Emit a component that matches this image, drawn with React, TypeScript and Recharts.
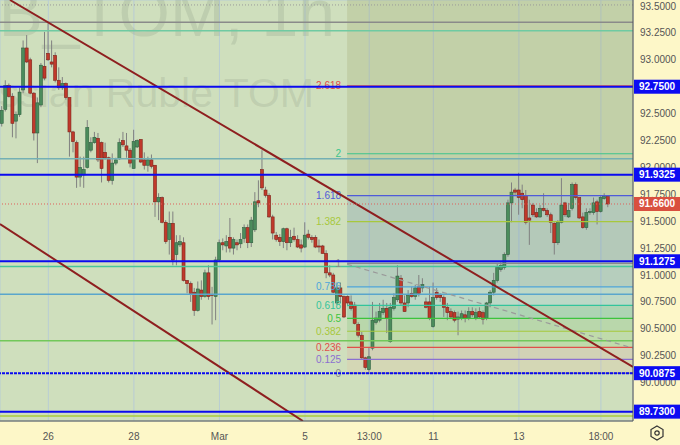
import { ComposedChart, Bar, XAxis, YAxis, CartesianGrid, ReferenceLine, ReferenceArea } from 'recharts'

// hourly candles: [open, high, low, close]
const ohlc: [number, number, number, number][] = [
  [92.41, 92.57, 92.38, 92.53], [92.54, 92.81, 92.52, 92.76], [92.76, 92.78, 92.65, 92.66], [92.66, 92.69, 92.28, 92.41],
  [92.43, 92.52, 92.27, 92.49], [92.49, 92.74, 92.47, 92.70], [92.72, 93.18, 92.69, 93.11], [93.11, 93.23, 92.97, 92.98],
  [93.00, 93.02, 92.68, 92.69], [92.69, 92.70, 92.25, 92.32], [92.32, 92.65, 92.04, 92.60], [92.58, 92.97, 92.56, 92.95],
  [92.94, 93.26, 92.81, 92.83], [93.06, 93.34, 92.99, 93.00], [92.98, 93.18, 92.93, 92.96], [93.04, 93.07, 92.79, 92.81],
  [92.81, 92.93, 92.72, 92.74], [92.74, 92.84, 92.72, 92.78], [92.78, 92.79, 92.63, 92.65], [92.65, 92.65, 92.10, 92.33],
  [92.33, 92.34, 92.14, 92.24], [92.23, 92.25, 91.81, 91.91], [91.91, 92.10, 91.82, 92.00], [91.93, 92.10, 91.81, 91.98],
  [92.00, 92.44, 91.99, 92.37], [92.16, 92.28, 92.14, 92.23], [92.23, 92.33, 92.22, 92.28], [92.27, 92.32, 92.05, 92.07],
  [92.23, 92.24, 91.86, 91.99], [92.14, 92.23, 92.07, 92.09], [92.09, 92.10, 91.86, 91.88], [91.88, 92.13, 91.84, 92.04],
  [92.04, 92.09, 92.02, 92.07], [92.08, 92.27, 92.07, 92.23], [92.25, 92.33, 92.19, 92.21], [92.20, 92.32, 92.09, 92.16],
  [92.16, 92.18, 92.00, 92.04], [91.99, 92.35, 91.99, 92.24], [92.19, 92.26, 92.18, 92.25], [92.26, 92.26, 92.04, 92.05],
  [92.07, 92.14, 91.98, 92.02], [92.02, 92.10, 91.96, 92.07], [92.07, 92.12, 91.99, 92.01], [92.02, 92.02, 91.54, 91.68],
  [91.68, 91.76, 91.51, 91.72], [91.72, 91.73, 91.48, 91.49], [91.49, 91.51, 91.29, 91.31], [91.33, 91.59, 91.19, 91.48],
  [91.48, 91.59, 91.09, 91.14], [91.19, 91.37, 91.09, 91.30], [91.28, 91.37, 91.26, 91.31], [91.30, 91.35, 90.94, 90.95],
  [90.95, 90.95, 90.83, 90.92], [90.92, 90.94, 90.75, 90.83], [90.84, 90.88, 90.62, 90.67], [90.67, 90.94, 90.66, 90.87],
  [90.86, 90.95, 90.77, 90.80], [90.80, 91.05, 90.79, 91.02], [91.02, 91.09, 90.77, 90.80], [90.82, 90.89, 90.54, 90.81],
  [90.80, 91.17, 90.58, 91.14], [91.14, 91.33, 91.12, 91.30], [91.30, 91.34, 91.23, 91.28], [91.27, 91.37, 91.21, 91.31],
  [91.35, 91.53, 91.21, 91.25], [91.25, 91.35, 91.19, 91.33], [91.30, 91.33, 91.23, 91.28], [91.29, 91.39, 91.25, 91.33],
  [91.34, 91.47, 91.30, 91.44], [91.44, 91.47, 91.25, 91.30], [91.30, 91.54, 91.26, 91.51], [91.42, 91.77, 91.40, 91.68],
  [91.69, 91.88, 91.63, 91.67], [91.98, 92.16, 91.79, 91.81], [91.79, 91.82, 91.72, 91.74], [91.74, 91.76, 91.53, 91.54],
  [91.54, 91.56, 91.33, 91.39], [91.37, 91.40, 91.31, 91.33], [91.35, 91.38, 91.27, 91.31], [91.31, 91.44, 91.25, 91.43],
  [91.43, 91.44, 91.23, 91.30], [91.30, 91.42, 91.26, 91.35], [91.36, 91.44, 91.31, 91.33], [91.33, 91.37, 91.25, 91.26],
  [91.28, 91.33, 91.21, 91.25], [91.26, 91.49, 91.25, 91.37], [91.38, 91.42, 91.33, 91.35], [91.35, 91.37, 91.30, 91.33],
  [91.35, 91.37, 91.25, 91.26], [91.27, 91.33, 91.21, 91.26], [91.27, 91.28, 91.20, 91.20], [91.20, 91.23, 90.97, 91.02],
  [91.02, 91.09, 90.98, 91.00], [91.00, 91.02, 90.83, 90.84], [90.74, 90.93, 90.72, 90.88], [90.88, 90.93, 90.74, 90.80],
  [90.80, 90.81, 90.60, 90.61], [90.80, 90.81, 90.71, 90.74], [90.75, 90.81, 90.67, 90.69], [90.72, 90.75, 90.54, 90.55],
  [90.54, 90.56, 90.42, 90.44], [90.44, 90.47, 90.21, 90.23], [90.23, 90.24, 90.12, 90.14], [90.12, 90.33, 90.10, 90.24],
  [90.32, 90.75, 90.30, 90.58], [90.56, 90.66, 90.54, 90.60], [90.58, 90.74, 90.56, 90.66], [90.65, 90.77, 90.63, 90.69],
  [90.69, 90.74, 90.46, 90.60], [90.38, 90.74, 90.37, 90.70], [90.69, 90.83, 90.67, 90.79], [90.77, 91.09, 90.75, 90.99],
  [90.97, 91.00, 90.72, 90.74], [90.74, 90.81, 90.66, 90.66], [90.74, 90.86, 90.70, 90.81], [90.83, 90.89, 90.79, 90.80],
  [90.80, 90.91, 90.77, 90.88], [90.89, 91.00, 90.80, 90.83], [90.88, 90.97, 90.84, 90.91], [90.75, 90.79, 90.69, 90.70],
  [90.75, 90.89, 90.58, 90.60], [90.52, 90.93, 90.51, 90.79], [90.84, 90.88, 90.77, 90.79], [90.81, 90.83, 90.75, 90.79],
  [90.79, 90.81, 90.61, 90.70], [90.70, 90.74, 90.58, 90.65], [90.66, 90.69, 90.60, 90.61], [90.65, 90.67, 90.56, 90.58],
  [90.59, 90.66, 90.44, 90.61], [90.60, 90.67, 90.58, 90.64], [90.63, 90.67, 90.56, 90.60], [90.60, 90.70, 90.58, 90.66],
  [90.66, 90.70, 90.61, 90.63], [90.60, 90.69, 90.58, 90.65], [90.66, 90.70, 90.60, 90.61], [90.65, 90.67, 90.54, 90.59],
  [90.60, 90.75, 90.58, 90.74], [90.74, 90.86, 90.70, 90.84], [90.84, 91.02, 90.81, 90.95], [90.95, 91.11, 90.93, 91.07],
  [91.05, 91.12, 91.03, 91.09], [91.07, 91.21, 91.05, 91.19], [91.19, 91.70, 91.17, 91.67], [91.67, 91.86, 91.49, 91.77],
  [91.79, 91.81, 91.74, 91.77], [91.79, 91.95, 91.56, 91.72], [91.76, 91.84, 91.62, 91.70], [91.74, 91.79, 91.47, 91.49],
  [91.53, 91.70, 91.28, 91.51], [91.65, 91.67, 91.54, 91.56], [91.58, 91.62, 91.53, 91.54], [91.54, 91.65, 91.53, 91.62],
  [91.62, 91.76, 91.59, 91.60], [91.60, 91.62, 91.54, 91.56], [91.56, 91.58, 91.39, 91.49], [91.48, 91.49, 91.19, 91.30],
  [91.30, 91.51, 91.28, 91.49], [91.49, 91.90, 91.48, 91.65], [91.67, 91.68, 91.54, 91.56], [91.54, 91.67, 91.53, 91.60],
  [91.62, 91.86, 91.60, 91.84], [91.84, 91.86, 91.70, 91.72], [91.72, 91.72, 91.52, 91.53], [91.54, 91.58, 91.43, 91.44],
  [91.44, 91.62, 91.42, 91.58], [91.58, 91.62, 91.56, 91.59], [91.58, 91.72, 91.56, 91.67], [91.68, 91.70, 91.47, 91.59],
  [91.59, 91.74, 91.58, 91.72], [91.71, 91.76, 91.70, 91.73], [91.73, 91.73, 91.63, 91.66],
]

const xTicks = [13, 37, 61, 85, 103, 121, 145, 168]
const xLabels = ['26', '28', 'Mar', '5', '13:00', '11', '13', '18:00']
const yTicks = [89.75, 90, 90.25, 90.5, 90.75, 91, 91.25, 91.5, 91.75, 92, 92.25, 92.5, 92.75, 93, 93.25, 93.5]

// levels with a price tag on the axis
const tagLevels = [92.75, 91.9325, 91.1275, 90.0875, 89.73]
const lastPrice = 91.66
// plain horizontal lines
const plainLevels = [93.51, 93.35, 93.27, 92.08, 91.08, 90.82, 90.39, 89.69]
const plainColors = ['#9a9a9a', '#8a8a8a', '#6fcaa2', '#74b0b4', '#48c79a', '#5aa6cc', '#72c85a', '#a9cc3e']

// fibonacci extension drawn from candle 96.8 to the right edge
const fibStart = 96.8
const fibBase = 90.0875
const fibRange = 1.0197
const fibRatios = [0, 0.125, 0.236, 0.382, 0.5, 0.618, 0.786, 1, 1.382, 1.618, 2, 2.618]
const fibColors = ['#8a8a8a', '#8b6fd0', '#e0504a', '#a7c83c', '#3cc43c', '#33c49c', '#4ea5da', '#8a8a8a', '#a7c83c', '#4f5bd8', '#3cc48c', '#e0504a']
const fibFills = ['#f0b090', '#e68c96', '#78c850', '#4caf50', '#089981', '#64b5f6', '#3a78c0', '#2a5aa8', '#2a5aa8', '#80803c', '#80803c', '#80803c']

// trend lines: [candle index, price]
const trendLines: [number, number][][] = [
  [[2.24, 93.556], [177, 90.145]],
  [[-0.56, 91.474], [84.4, 89.643]],
]
const dashedLine: [number, number][] = [[96.8, 91.10], [177, 90.32]]

const candles = ohlc.map(([open, high, low, close], i) => ({ i, open, high, low, close }))
const fibPrice = (r: number) => fibBase + r * fibRange
// tick labels that sit fully under a price tag are not shown
const tickLabels = yTicks.filter(t => !tagLevels.some(p => Math.abs(p - t) < 0.03))

const FONT = '"Liberation Sans", Arial, sans-serif'
const X_DOMAIN: [number, number] = [-0.56, 177]
const Y_DOMAIN: [number, number] = [89.643, 93.556]

function Candle(props: any) {
  const { x, y, width, height, payload } = props
  const { open, close, high, low } = payload
  const cx = x + width / 2
  const span = high - low
  const py = (p: number) => (span > 0 ? y + ((high - p) / span) * height : y)
  const top = py(Math.max(open, close))
  const bot = py(Math.min(open, close))
  const up = close >= open
  return (
    <g>
      <line x1={cx} x2={cx} y1={y} y2={y + height} stroke="#808080" strokeWidth={1} />
      <rect x={cx - 1.5} y={top} width={3} height={Math.max(1, bot - top)}
        fill={up ? '#4b8c5c' : '#c0392b'} stroke={up ? '#2e6040' : '#7e2219'} strokeWidth={0.6} />
    </g>
  )
}

function PriceTag({ viewBox, text, bg }: any) {
  const x = viewBox.x + viewBox.width + 1
  const y = viewBox.y
  return (
    <g>
      <rect x={x} y={y - 7} width={46} height={14} fill={bg} />
      <text x={x + 23} y={y + 3.5} textAnchor="middle" fill="#fff" fontSize={10} fontWeight="bold" fontFamily={FONT}>{text}</text>
    </g>
  )
}

function AxisLabel({ viewBox, text }: any) {
  return (
    <text x={viewBox.x + viewBox.width + 7} y={viewBox.y + 3.5} fill="#555" fontSize={10} fontFamily={FONT}>{text}</text>
  )
}

function FibLabel({ viewBox, text, color }: any) {
  return (
    <text x={viewBox.x - 6} y={viewBox.y + 3.5} textAnchor="end" fill={color} fontSize={10} fontFamily={FONT}>{text}</text>
  )
}

function Watermark(props: any) {
  const { x, y, width, height } = props
  return (
    <g fill="#7f8a7a" fillOpacity={0.2} fontFamily={FONT}>
      <rect x={x} y={y} width={width} height={height} fill="none" />
      <text x={x + 335} y={y + 36} textAnchor="end" fontSize={66}>USDRUB_TOM, 1h</text>
      <text x={x + 314} y={y + 107} textAnchor="end" fontSize={41}>US Dollar / Russian Ruble TOM</text>
    </g>
  )
}

export default function App() {
  return (
    <div style={{ position: 'absolute', left: 0, top: 0, width: 680, height: 445, background: '#fdf7c8' }}>
      <ComposedChart width={680} height={445} data={candles} margin={{ top: 0, right: 0, bottom: 0, left: 0 }}>
        <CartesianGrid fill="#cfdfbd" stroke="#b8cdd4" strokeWidth={1} />
        <XAxis type="number" dataKey="i" domain={X_DOMAIN} ticks={xTicks} allowDataOverflow height={24}
          tickFormatter={(v) => xLabels[xTicks.indexOf(v)] ?? ''}
          axisLine={{ stroke: '#555' }} tickLine={false}
          tick={{ fontSize: 10, fill: '#555', fontFamily: FONT }} tickMargin={6} />
        <YAxis orientation="right" domain={Y_DOMAIN} ticks={yTicks} allowDataOverflow width={47}
          axisLine={{ stroke: '#555' }} tickLine={false} tick={false} />

        {/* fib zones */}
        {fibRatios.map((r, k) => (
          <ReferenceArea key={'fz' + k} x1={fibStart} x2={X_DOMAIN[1]} y1={fibPrice(r)}
            y2={k < fibRatios.length - 1 ? fibPrice(fibRatios[k + 1]) : Y_DOMAIN[1]}
            fill={fibFills[k]} fillOpacity={0.16} stroke="none" ifOverflow="hidden" />
        ))}

        <ReferenceArea x1={X_DOMAIN[0]} x2={X_DOMAIN[1]} y1={Y_DOMAIN[0]} y2={Y_DOMAIN[1]} shape={<Watermark />} ifOverflow="hidden" />

        {plainLevels.map((p, k) => (
          <ReferenceLine key={'pl' + k} y={p} stroke={plainColors[k]} strokeWidth={k === 0 ? 1 : 1.5}
            strokeDasharray={k === 0 ? '1 2' : undefined} ifOverflow="hidden" />
        ))}

        {fibRatios.map((r, k) => (
          <ReferenceLine key={'fl' + k} segment={[{ x: fibStart, y: fibPrice(r) }, { x: X_DOMAIN[1], y: fibPrice(r) }]}
            stroke={fibColors[k]} strokeWidth={1.2} ifOverflow="hidden"
            label={(p: any) => <FibLabel viewBox={p.viewBox} text={String(r)} color={fibColors[k]} />} />
        ))}

        <ReferenceLine segment={dashedLine.map(([x, y]) => ({ x, y }))} stroke="#9a9a9a" strokeWidth={1.2}
          strokeDasharray="5 4" ifOverflow="hidden" />

        {trendLines.map((ln, k) => (
          <ReferenceLine key={'tl' + k} segment={ln.map(([x, y]) => ({ x, y }))} stroke="#8e1f1f" strokeWidth={2} ifOverflow="hidden" />
        ))}

        {/* price scale labels, drawn before the tags so the tags cover them */}
        {tickLabels.map(t => (
          <ReferenceLine key={'yt' + t} y={t} stroke="none"
            label={(p: any) => <AxisLabel viewBox={p.viewBox} text={t.toFixed(4)} />} />
        ))}

        <ReferenceLine y={lastPrice} stroke="#e0605a" strokeWidth={1} strokeDasharray="1 2"
          label={(p: any) => <PriceTag viewBox={p.viewBox} text={lastPrice.toFixed(4)} bg="#d9503f" />} />

        <Bar dataKey={(d: any) => [d.low, d.high]} barSize={3} shape={<Candle />} isAnimationActive={false} />

        {tagLevels.map((p, k) => (
          <ReferenceLine key={'tg' + k} y={p} stroke="#0a0af0" strokeWidth={2}
            strokeDasharray={p === 90.0875 ? '3 1' : undefined}
            label={(lp: any) => <PriceTag viewBox={lp.viewBox} text={p.toFixed(4)} bg="#0c0cf2" />} />
        ))}
      </ComposedChart>
      <svg width={20} height={20} style={{ position: 'absolute', left: 647, top: 423 }}>
        <polygon points="10,3 16,6.5 16,13.5 10,17 4,13.5 4,6.5" fill="none" stroke="#333" strokeWidth={1.2} />
        <circle cx={10} cy={10} r={2.2} fill="none" stroke="#333" strokeWidth={1.2} />
      </svg>
    </div>
  )
}
